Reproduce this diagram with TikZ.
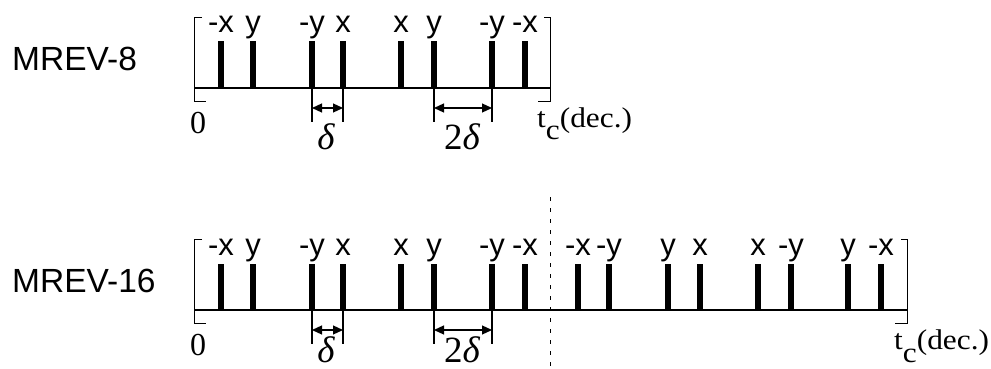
\documentclass[tikz,border=0pt]{standalone}
\usepackage{fontspec}
\setmainfont{Liberation Serif}
\newfontfamily\helv{Liberation Sans}
\newfontfamily\tcfont[FakeStretch=1.1]{Liberation Serif}
\usetikzlibrary{arrows.meta}

\begin{document}
\begin{tikzpicture}[x=1pt, y=-1pt,
    pulse/.style={fill=black},
    frame/.style={line width=0.9pt},
    axis/.style={line width=1.7pt},
    tick/.style={line width=1.2pt},
    dim/.style={line width=1.2pt, {Triangle[length=10pt,width=9pt]}-{Triangle[length=10pt,width=9pt]}},
    phase/.style={font=\helv\fontsize{31}{32}\selectfont, anchor=base, inner sep=0pt},
    seqname/.style={font=\helv\fontsize{33.5}{36}\selectfont, anchor=west, inner sep=0pt},
    tlabel/.style={font=\fontsize{32}{34}\selectfont, anchor=base, inner sep=0pt},
    tclabel/.style={font=\tcfont\fontsize{28.5}{30}\selectfont, anchor=base west, inner sep=0pt},
    dlabel/.style={font=\fontsize{37}{40}\selectfont, anchor=base, inner sep=0pt},
    cut/.style={line width=1pt, dash pattern=on 4pt off 7pt}]
\useasboundingbox (0,0) rectangle (991,369);

% both rows share the first cycle; MREV-16 is shifted down by 222
\foreach \oy/\seq/\xend/\dy in {0/8/550/149, 222/16/907/140} {
  \begin{scope}[yshift=-\oy pt]
    \node[seqname] (name\seq) at (12,59) {MREV-\seq};
    % brackets and time axis
    \draw[frame] (202,17) -- (194,17) -- (194,101.5) -- (206,101.5);
    \draw[frame] (\xend-6,17) -- (\xend,17) -- (\xend,101.5) -- (\xend-12,101.5);
    \draw[axis] (194,88) -- (\xend,88);
    \foreach \px/\ph in {27/-x, 59/y, 118/-y, 149/x, 207/x, 240/y, 298/-y, 331/-x} {
      \fill[pulse] (194+\px-3.4,41.5) rectangle (194+\px+3.4,88);
      \node[phase] (ph\seq-\px) at (194+\px,33) {\ph};
    }
    % delta and 2 delta spacings
    \coordinate (da\seq) at (312,108);
    \coordinate (db\seq) at (343,108);
    \coordinate (dc\seq) at (434,108);
    \coordinate (dd\seq) at (492,108);
    \foreach \c in {da,db,dc,dd}
      \draw[tick] (\c\seq |- 0,88) -- (\c\seq |- 0,122);
    \draw[dim] (da\seq) -- (db\seq);
    \draw[dim] (dc\seq) -- (dd\seq);
    \node[dlabel] (delta\seq) at (326,\dy) {\itshape δ};
    \node[dlabel] (twodelta\seq) at (462,\dy) {2\itshape δ};
    \node[tlabel] (zero\seq) at (198,133) {0};
    \node[tclabel] (tc\seq) at (\xend-13,127) {t\raisebox{-13pt}{c}(dec.)};
  \end{scope}
}

% second half of MREV-16
\begin{scope}[yshift=-222pt]
  \foreach \px/\ph in {28/-x, 59/-y, 118/y, 150/x, 208/x, 241/-y, 298/y, 331/-x} {
    \fill[pulse] (550+\px-3.4,41.5) rectangle (550+\px+3.4,88);
    \node[phase] (pr-\px) at (550+\px,33) {\ph};
  }
\end{scope}
\coordinate (cuttop) at (550,197);
\coordinate (cutbot) at (550,369);
\draw[cut] (cuttop) -- (cutbot);
\end{tikzpicture}
\end{document}
